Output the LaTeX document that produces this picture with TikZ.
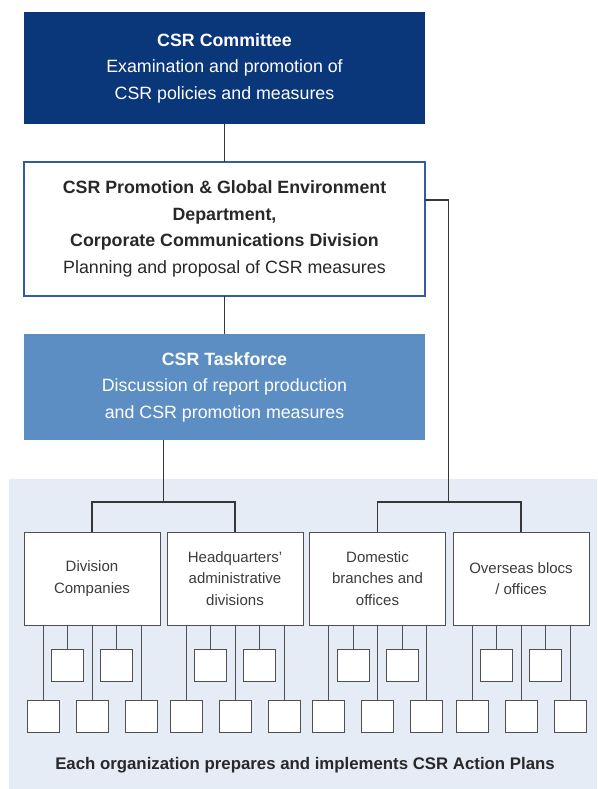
\documentclass[tikz,border=0pt]{standalone}
\usepackage{fontspec}
\setmainfont{Liberation Sans}
\definecolor{navy}{RGB}{10,54,122}
\definecolor{taskblue}{RGB}{92,142,195}
\definecolor{panelblue}{RGB}{230,236,246}
\definecolor{promoborder}{RGB}{52,92,165}
\definecolor{linegray}{RGB}{55,55,55}
\definecolor{boxgray}{RGB}{80,80,80}
\definecolor{textdark}{RGB}{40,40,40}
\definecolor{textgray}{RGB}{60,60,60}
\begin{document}
\begin{tikzpicture}[x=1pt,y=-1pt,
  conn/.style={draw=linegray, line width=1.1pt},
  bigbox/.style={rectangle, inner sep=0pt, outer sep=0pt, minimum width=401pt, align=center,
    font=\fontsize{17.8}{26.6}\selectfont},
  unitbox/.style={rectangle, draw=boxgray, fill=white, line width=0.9pt, inner sep=0pt, outer sep=0pt,
    minimum width=136pt, minimum height=93pt, align=center, text=textgray,
    font=\fontsize{15}{21.6}\selectfont},
  smallbox/.style={rectangle, draw=boxgray, fill=white, line width=0.9pt, inner sep=0pt, outer sep=0pt,
    minimum width=32pt, minimum height=32pt}]
\useasboundingbox (0,0) rectangle (597,789);
\fill[panelblue] (9,479) rectangle (597,789);

\node[bigbox, fill=navy, text=white, minimum height=112pt] (comm) at (224.5,68)
  {\textbf{CSR Committee}\\Examination and promotion of\\CSR policies and measures};
\node[bigbox, fill=white, draw=promoborder, line width=1.1pt, text=textdark, minimum height=134pt] (promo) at (224.5,229)
  {\textbf{CSR Promotion \& Global Environment}\\\textbf{Department,}\\\textbf{Corporate Communications Division}\\Planning and proposal of CSR measures};
\node[bigbox, fill=taskblue, text=white, minimum height=106pt] (task) at (224.5,387)
  {\textbf{CSR Taskforce}\\Discussion of report production\\and CSR promotion measures};

\node[unitbox] (div) at (92,578.5) {Division\\Companies};
\node[unitbox] (hq) at (235,578.5) {Headquarters'\\administrative\\divisions};
\node[unitbox] (dom) at (377.5,578.5) {Domestic\\branches and\\offices};
\node[unitbox] (ovs) at (521,578.5) {Overseas blocs\\/ offices};

\coordinate (r1) at (448.5,200);
\coordinate (lbar) at (163.5,502);
\coordinate (rbar) at (448.5,502);

\draw[conn] (comm.south) -- (promo.north);
\draw[conn] (promo.south) -- (task.north);
\draw[conn] (promo.east |- r1) -- (r1) -- (rbar);
\draw[conn] (task.south -| lbar) -- (lbar);
\draw[conn] (div.north) |- (lbar) -| (hq.north);
\draw[conn] (dom.north) |- (rbar) -| (ovs.north);

\foreach \n/\c in {div/92, hq/235, dom/377.5, ovs/521}{
  \node[smallbox] (\n-a) at (\c-49,716) {};
  \node[smallbox] (\n-b) at (\c-24.5,665) {};
  \node[smallbox] (\n-c) at (\c,716) {};
  \node[smallbox] (\n-d) at (\c+24.5,665) {};
  \node[smallbox] (\n-e) at (\c+49,716) {};
  \foreach \k in {a,b,c,d,e}{
    \draw[conn, line width=0.9pt, draw=boxgray] (\n.south -| \n-\k.north) -- (\n-\k.north);
  }
}

\node[font=\bfseries\fontsize{16.8}{20}\selectfont, text=textdark] (plans) at (305,765)
  {Each organization prepares and implements CSR Action Plans};
\end{tikzpicture}
\end{document}
